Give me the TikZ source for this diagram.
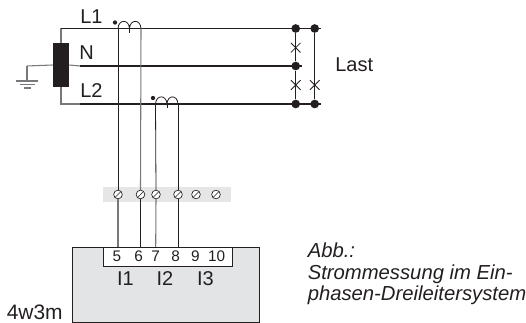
\documentclass[tikz,border=0pt]{standalone}
\usepackage{fontspec}
\setmainfont{Liberation Sans}
\definecolor{ink}{HTML}{231F20}
\definecolor{midg}{HTML}{77787B}
\definecolor{boxg}{HTML}{E3E4E5}
\definecolor{stripg}{HTML}{E6E6E6}
\tikzset{
 mainline/.style={draw=ink,line width=1.1pt},
 thinblack/.style={draw=ink,line width=0.6pt},
 thingray/.style={draw=midg,line width=0.8pt},
 coil/.style={draw=ink,line width=0.6pt},
 junction/.style={circle,fill=ink,minimum size=6.5pt,inner sep=0pt},
 polarity/.style={circle,fill=ink,minimum size=3.2pt,inner sep=0pt},
 screw/.style={circle,draw=ink,fill=white,line width=0.5pt,minimum size=6.5pt,inner sep=0pt,path picture={\draw[ink,line width=0.5pt] (path picture bounding box.south west)--(path picture bounding box.north east);}},
 lbl/.style={inner sep=0pt,font=\fontsize{15}{17}\selectfont,text=ink},
 captext/.style={inner sep=0pt,font=\fontsize{15.2}{17}\selectfont\itshape,text=ink},
 num/.style={inner sep=0pt,font=\fontsize{11.5}{13}\selectfont,text=ink},
 cross/.style={draw=ink,line width=0.6pt},
}
\begin{document}
\begin{tikzpicture}[x=0.75pt,y=-0.75pt]
\useasboundingbox (0,0) rectangle (526,323);
% strip and meter
\fill[stripg] (103,187) rectangle (231,202);
\node[draw=ink,fill=boxg,line width=1pt,minimum width=140.25pt,minimum height=56.25pt,inner sep=0pt,anchor=north west] (meter) at (72,247) {};
\node[draw=ink,fill=white,line width=0.7pt,minimum width=96.75pt,minimum height=14.25pt,inner sep=0pt,anchor=north west] (term) at (103,247) {};
% coordinates
\coordinate (L1s) at (80,28.5); \coordinate (Ns) at (80,66); \coordinate (L2s) at (80,104);
\coordinate (L1e) at (321,28.5); \coordinate (Ne) at (302,66); \coordinate (L2e) at (321,104);
\coordinate (gnd) at (27,66); \coordinate (gndb) at (27,81);
\coordinate (c1a) at (118,28.5); \coordinate (c1b) at (141,28.5); \coordinate (c1m) at (129.5,28.5);
\coordinate (c2a) at (155.5,104); \coordinate (c2b) at (178,104); \coordinate (c2m) at (167,104);
% transformer
\node[fill=ink,minimum width=12pt,minimum height=33pt,inner sep=0pt] (tr) at (61,65) {};
\draw[thingray] (gnd) -- (tr.west);
\draw[thingray] (gnd) -- (gndb);
\draw[thingray] (tr.east) -- (Ns);
\draw[thingray] (tr.north) -- (61,28.5) -- (L1s);
\draw[thingray] (tr.south) -- (61,104) -- (L2s);
\draw[thinblack] (61,28.5) -- (L1s);
\draw[thingray] (16,81) -- (38,81);
\draw[thingray] (20,84.5) -- (35,84.5);
\draw[thingray] (24,88) -- (31,88);
% conductors
\draw[mainline] (L1s) -- (L1e);
\draw[mainline] (Ns) -- (Ne);
\draw[mainline] (L2s) -- (L2e);
% junctions
\node[junction] (j1) at (295.7,28.5) {};
\node[junction] (j2) at (295.7,66) {};
\node[junction] (j3) at (295.7,104) {};
\node[junction] (j4) at (314.7,28.5) {};
\node[junction] (j5) at (314.7,104) {};
\draw[thinblack] (j1) -- (j2);
\draw[thinblack] (j2) -- (j3);
\draw[thinblack] (j4) -- (j5);
\foreach \n/\x/\y in {a/295.7/47.7,b/295.7/85,c/314.7/85}{
 \coordinate (x\n) at (\x,\y);
 \draw[cross] ([xshift=-3.6pt,yshift=-3.6pt]x\n) -- ([xshift=3.6pt,yshift=3.6pt]x\n);
 \draw[cross] ([xshift=-3.6pt,yshift=3.6pt]x\n) -- ([xshift=3.6pt,yshift=-3.6pt]x\n);
}
% screws
\node[screw] (s1) at (118,194.5) {};
\node[screw] (s2) at (140.5,194.5) {};
\node[screw] (s3) at (156,194.5) {};
\node[screw] (s4) at (178,194.5) {};
\node[screw] (s5) at (196,194.5) {};
\node[screw] (s6) at (216,194.5) {};
% terminal texts
\node[num] (t5) at (117,256.7) {5};
\node[num] (t6) at (138.7,256.7) {6};
\node[num] (t7) at (155.7,256.7) {7};
\node[num] (t8) at (175.7,256.7) {8};
\node[num] (t9) at (195.3,256.7) {9};
\node[num] (t10) at (216.7,256.7) {10};
\coordinate (p1) at (118,247); \coordinate (p2) at (140.5,247); \coordinate (p3) at (155.7,247); \coordinate (p4) at (178,247);
% verticals
\draw[thinblack] (c1a) -- (s1.north);
\draw[thingray] (s1.south) -- (p1);
\draw[thingray] (c1b) -- (s2.north);
\draw[thinblack] (s2.south) -- (p2);
\draw[thinblack] (c2a) -- (s3.north);
\draw[thingray] (s3.south) -- (p3);
\draw[thinblack] (c2b) -- (s4.north);
\draw[thinblack] (s4.south) -- (p4);
% coils
\draw[coil] (c1a) .. controls (118.5,19) and (129,19) .. (c1m) .. controls (130,19) and (140.5,19) .. (c1b);
\draw[coil] (c1m) -- (129.5,33);
\draw[coil] (c2a) .. controls (156,94.5) and (166.5,94.5) .. (c2m) .. controls (167.5,94.5) and (177.5,94.5) .. (c2b);
\draw[coil] (c2m) -- (167,108);
\node[polarity] (d1) at (115,22.5) {};
\node[polarity] (d2) at (153,98) {};
% labels
\node[lbl,anchor=base west] (l1) at (80,23.3) {L1};
\node[lbl,anchor=base west] (ln) at (79,60) {N};
\node[lbl,anchor=base west] (l2) at (80,98) {L2};
\node[lbl,anchor=base west] (last) at (335,71.7) {Last};
\node[lbl,anchor=base] (i1) at (125.5,285.7) {I1};
\node[lbl,anchor=base] (i2) at (165,285.7) {I2};
\node[lbl,anchor=base] (i3) at (205.5,285.7) {I3};
\node[lbl,anchor=base west,font=\fontsize{15.7}{17}\selectfont] (m) at (6.5,319.5) {4w3m};
\node[captext,anchor=base west] (a1) at (307.5,258) {Abb.:};
\node[captext,anchor=base west] (a2) at (307.5,279.5) {Strommessung im Ein-};
\node[captext,anchor=base west] (a3) at (307.5,300.5) {phasen-Dreileitersystem};
\end{tikzpicture}
\end{document}
